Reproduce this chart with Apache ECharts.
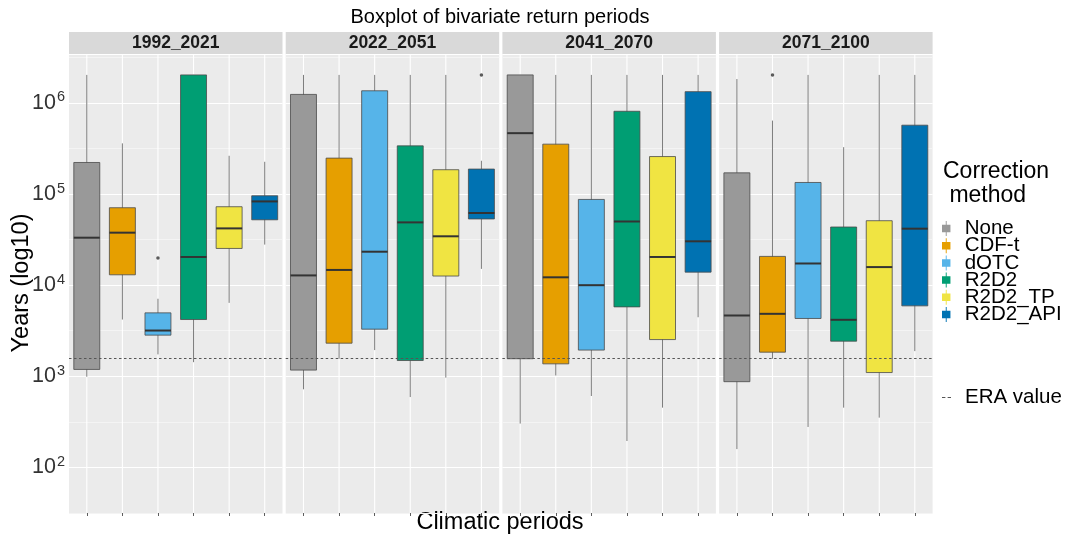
<!DOCTYPE html>
<html>
<head>
<meta charset="utf-8">
<script src="https://cdn.jsdelivr.net/npm/echarts@6/dist/echarts.min.js"></script>
<style>html,body{margin:0;padding:0;background:#fff;}#chart{width:1068px;height:535px;}</style>
</head>
<body>
<div id="chart"></div>
<script>
// ---------------- data ----------------
const periods = ['1992_2021', '2022_2051', '2041_2070', '2071_2100'];
const methods = ['None', 'CDF-t', 'dOTC', 'R2D2', 'R2D2_TP', 'R2D2_API'];
const methodColors = ['#999999', '#E69F00', '#56B4E9', '#009E73', '#F0E442', '#0072B2'];
// each row: [whisker min, Q1, median, Q3, whisker max] in years
const stats_1992_2021 = [
  [990, 1190, 33200, 222000, 2030000],
  [4200, 13000, 37700, 70800, 360000],
  [1740, 2830, 3180, 4970, 7100],
  [1430, 4200, 20400, 2030000, 2030000],
  [6400, 25300, 42000, 72600, 263000],
  [27900, 52200, 83000, 95800, 226000]
];
const stats_2022_2051 = [
  [720, 1170, 12800, 1240000, 2030000],
  [1560, 2310, 14700, 248000, 2030000],
  [1940, 3290, 23300, 1360000, 2030000],
  [592, 1490, 48900, 338000, 2030000],
  [967, 12600, 34400, 185000, 2030000],
  [15100, 53300, 62000, 188000, 232000]
];
const stats_2041_2070 = [
  [303, 1560, 466000, 2030000, 2030000],
  [1020, 1370, 12200, 353000, 2030000],
  [608, 1940, 10000, 87300, 2030000],
  [195, 5780, 50000, 810000, 2030000],
  [453, 2530, 20400, 258000, 2030000],
  [4450, 13900, 30300, 1330000, 2030000]
];
const stats_2071_2100 = [
  [159, 873, 4650, 171000, 1830000],
  [1560, 1840, 4850, 20700, 640000],
  [278, 4310, 17300, 134000, 2030000],
  [453, 2430, 4170, 43500, 327000],
  [352, 1100, 15800, 51000, 2030000],
  [1890, 5930, 41700, 570000, 2030000]
];
const statsByPeriod = [stats_1992_2021, stats_2022_2051, stats_2041_2070, stats_2071_2100];
// outliers: [period index, method index, years]
const outliers = [
  [0, 2, 19900],
  [1, 5, 2030000],
  [3, 1, 2030000]
];
const eraValue = 1570;
const yTickExponents = [2, 3, 4, 5, 6];

// ---------------- layout ----------------
const Y_MIN = 1.5, Y_MAX = 6.537;
const GRID_TOP = 54, GRID_H = 459, GRID_W = 213.5;
const gridLefts = [69, 285.7, 502.4, 719.1];
const FONT = 'Liberation Sans, Arial, Helvetica, sans-serif';
const lg = v => Math.log10(v);

function renderBox(params, api) {
  const x = api.value(0);
  const color = api.visual('color');
  const band = api.size([1, 0])[0];
  const half = band * 0.365;
  const pMin = api.coord([x, api.value(1)]);
  const pQ1 = api.coord([x, api.value(2)]);
  const pMed = api.coord([x, api.value(3)]);
  const pQ3 = api.coord([x, api.value(4)]);
  const pMax = api.coord([x, api.value(5)]);
  const gTop = api.coord([x, Y_MAX]);
  const gBot = api.coord([x, Y_MIN]);
  const cx = pMed[0];
  return {
    type: 'group',
    children: [
      { type: 'line', shape: { x1: cx, y1: gTop[1], x2: cx, y2: gBot[1] }, style: { stroke: '#ffffff', lineWidth: 1.1 } },
      { type: 'line', shape: { x1: cx, y1: pMax[1], x2: cx, y2: pMin[1] }, style: { stroke: '#5a5a5a', lineWidth: 0.8 } },
      { type: 'rect', shape: { x: cx - half, y: pQ3[1], width: 2 * half, height: pQ1[1] - pQ3[1] }, style: { fill: color, stroke: '#4a4a4a', lineWidth: 0.8 } },
      { type: 'line', shape: { x1: cx - half, y1: pMed[1], x2: cx + half, y2: pMed[1] }, style: { stroke: '#333333', lineWidth: 2 } }
    ]
  };
}

const grids = [], xAxes = [], yAxes = [], series = [], graphics = [];
periods.forEach((p, pi) => {
  grids.push({ left: gridLefts[pi], top: GRID_TOP, width: GRID_W, height: GRID_H, show: true, backgroundColor: '#EBEBEB', borderWidth: 0 });
  xAxes.push({
    type: 'category', gridIndex: pi, data: methods, boundaryGap: true,
    axisLine: { show: false },
    axisTick: { show: true, alignWithLabel: true, interval: 0, length: 3, lineStyle: { color: '#333', width: 0.8 } },
    axisLabel: { show: false, interval: 0 }, splitLine: { show: false }
  });
  yAxes.push({
    type: 'value', gridIndex: pi, min: Y_MIN, max: Y_MAX, interval: 0.5,
    axisLine: { show: false },
    axisTick: { show: false },
    splitLine: { show: true, lineStyle: { color: ['#F4F4F4', '#FFFFFF'], width: 1 } },
    axisLabel: {
      show: pi === 0, margin: 4,
      formatter: v => {
        const r = Math.round(v);
        if (Math.abs(v - r) > 1e-6 || yTickExponents.indexOf(r) < 0) return '';
        return '{b|10}{s|' + r + '}';
      },
      rich: {
        b: { fontFamily: FONT, fontSize: 21.5, color: '#333' },
        s: { fontFamily: FONT, fontSize: 14.5, color: '#333', verticalAlign: 'top', padding: [0, 0, 11, 1] }
      }
    }
  });
  const stats = statsByPeriod[pi];
  methods.forEach((m, mi) => {
    series.push({
      type: 'custom', name: m, xAxisIndex: pi, yAxisIndex: pi,
      itemStyle: { color: methodColors[mi] },
      renderItem: renderBox,
      encode: { x: 0, y: [1, 2, 3, 4, 5] },
      data: [[mi].concat(stats[mi].map(lg))],
      z: 2
    });
  });
  series.push({
    type: 'scatter', name: 'outliers', xAxisIndex: pi, yAxisIndex: pi,
    symbolSize: 3.5, itemStyle: { color: '#333' }, z: 3,
    data: outliers.filter(o => o[0] === pi).map(o => [o[1], lg(o[2])])
  });
  series.push({
    type: 'line', name: 'ERA value', xAxisIndex: pi, yAxisIndex: pi, data: [],
    itemStyle: { color: '#666' }, lineStyle: { color: '#666' }, z: 5,
    markLine: {
      silent: true, symbol: 'none', label: { show: false },
      lineStyle: { color: '#555', type: [2.5, 2.5], width: 1 },
      data: [{ yAxis: lg(eraValue) }]
    }
  });
  // facet strip
  graphics.push({ type: 'rect', left: gridLefts[pi], top: 32, shape: { width: GRID_W, height: 22 }, style: { fill: '#D9D9D9' }, silent: true });
  graphics.push({ type: 'text', x: gridLefts[pi] + GRID_W / 2, y: 43.5, style: { text: p, font: 'bold 17.5px ' + FONT, fill: '#1a1a1a', textAlign: 'center', textVerticalAlign: 'middle' } });
});

graphics.push({ type: 'text', x: 500, y: 17, style: { text: 'Boxplot of bivariate return periods', font: '20px ' + FONT, fill: '#000', textAlign: 'center', textVerticalAlign: 'middle' } });
graphics.push({ type: 'text', x: 500, y: 523, style: { text: 'Climatic periods', font: '23.5px ' + FONT, fill: '#000', textAlign: 'center', textVerticalAlign: 'middle' } });
graphics.push({ type: 'text', x: 21.5, y: 283, rotation: Math.PI / 2, style: { text: 'Years (log10)', font: '23.5px ' + FONT, fill: '#000', textAlign: 'center', textVerticalAlign: 'middle' } });
graphics.push({ type: 'text', x: 943, y: 172, style: { text: 'Correction', font: '23px ' + FONT, fill: '#000', textAlign: 'left', textVerticalAlign: 'middle' } });
graphics.push({ type: 'text', x: 943, y: 196, style: { text: ' method', font: '23px ' + FONT, fill: '#000', textAlign: 'left', textVerticalAlign: 'middle' } });

const KEY_ICON = 'path://M4,0h1v4h4v8h-4v4h-1v-4h-4v-8h4z';
const legendText = { fontFamily: FONT, fontSize: 20.5, color: '#000', padding: [0, 0, 0, 9] };
const option = {
  animation: false,
  backgroundColor: '#ffffff',
  grid: grids, xAxis: xAxes, yAxis: yAxes, series: series,
  graphic: graphics,
  legend: [
    {
      orient: 'vertical', left: 942, top: 218, padding: 0, itemWidth: 9, itemHeight: 15, itemGap: -3.8,
      selectedMode: false, textStyle: legendText,
      data: methods.map(m => ({ name: m, icon: KEY_ICON }))
    },
    {
      orient: 'vertical', left: 942, top: 387, padding: 0, itemWidth: 9, itemHeight: 15, itemGap: 0,
      selectedMode: false, textStyle: legendText,
      data: [{ name: 'ERA value', icon: 'path://M0,7h3v1h-3z M5,7h3v1h-3z', itemStyle: { color: '#555' } }]
    }
  ]
};
const chart = echarts.init(document.getElementById('chart'), null, { renderer: 'canvas' });
chart.setOption(option);
</script>
</body>
</html>
